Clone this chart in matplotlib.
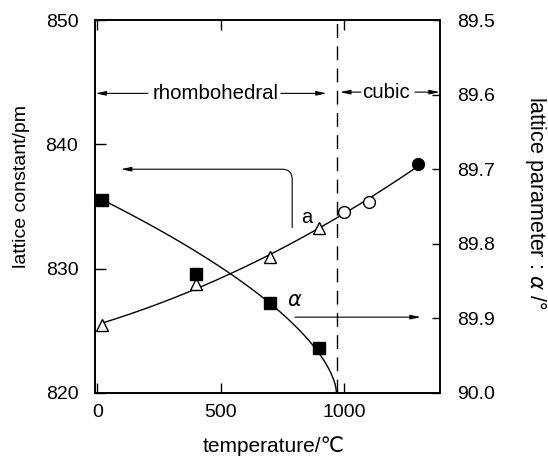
import numpy as np
import matplotlib.pyplot as plt

plt.rcParams['font.family'] = ['Liberation Sans', 'DejaVu Sans']
plt.rcParams['mathtext.fontset'] = 'dejavusans'

# lattice constant a (left axis)
T_rhombo = [20, 400, 700, 900]
a_rhombo = [825.5, 828.75, 830.9, 833.25]
T_cubic_open = [1000, 1100]
a_cubic_open = [834.55, 835.35]
T_cubic_fill = [1300]
a_cubic_fill = [838.4]

# rhombohedral angle alpha (right axis)
T_alpha = [20, 400, 700, 900]
alpha = [89.741, 89.840, 89.880, 89.940]

T_trans = 970      # phase transition (dashed line)
beta = 0.61        # shape of the alpha curve

fig = plt.figure(figsize=(5.48, 4.59), dpi=100)
ax = fig.add_axes([0.1734, 0.1438, 0.6296, 0.8126])
ax2 = ax.twinx()

# smooth curve through all a points
T_all = T_rhombo + T_cubic_open + T_cubic_fill
a_all = a_rhombo + a_cubic_open + a_cubic_fill
p = np.polyfit(T_all, a_all, 2)
tt = np.linspace(T_all[0], T_all[-1], 200)
ax.plot(tt, np.polyval(p, tt), color='k', lw=1, zorder=2)

ax.plot(T_rhombo, a_rhombo, '^', ms=9, mfc='white', mec='k', mew=1, zorder=3)
ax.plot(T_cubic_open, a_cubic_open, 'o', ms=8.5, mfc='white', mec='k', mew=1, zorder=3)
ax.plot(T_cubic_fill, a_cubic_fill, 'o', ms=8.5, mfc='k', mec='k', zorder=3)

# alpha curve, goes to 90 deg at the transition
ta = np.linspace(T_alpha[0], T_trans, 300)
af = 90 - (90 - alpha[0]) * ((T_trans - ta) / (T_trans - T_alpha[0])) ** beta
ax2.plot(ta, af, color='k', lw=1, zorder=2)
ax2.plot(T_alpha, alpha, 's', ms=9, mfc='k', mec='k', zorder=3)

ax.axvline(T_trans, color='k', lw=1, dashes=(10, 6))

ax.set_xlim(-10, 1390)
ax.set_ylim(820, 850)
ax2.set_ylim(90.0, 89.5)

ax.set_xticks([0, 500, 1000])
ax.set_yticks([820, 830, 840, 850])
ax2.set_yticks([89.5, 89.6, 89.7, 89.8, 89.9, 90.0])
ax2.set_yticklabels(['89.5', '89.6', '89.7', '89.8', '89.9', '90.0'])

ax.tick_params(axis='x', direction='in', top=True, length=7, width=1, labelsize=14, pad=8)
ax.tick_params(axis='y', direction='in', length=8, width=1, labelsize=14, pad=12)
ax2.tick_params(axis='y', direction='in', length=6, width=1, labelsize=14, pad=12)
for a_ in (ax, ax2):
    for s in a_.spines.values():
        s.set_linewidth(1.2)

# phase region arrows
arr = dict(arrowstyle='-|>,head_length=0.6,head_width=0.13', color='k', lw=0.8, shrinkA=0, shrinkB=0)
ax.annotate('', xy=(-8, 844.1), xytext=(205, 844.1), arrowprops=arr)
ax.annotate('', xy=(930, 844.1), xytext=(744, 844.1), arrowprops=arr)
ax.text(478, 844.1, 'rhombohedral', fontsize=14.7, ha='center', va='center')
ax.annotate('', xy=(984, 844.2), xytext=(1069, 844.2), arrowprops=arr)
ax.annotate('', xy=(1389, 844.2), xytext=(1288, 844.2), arrowprops=arr)
ax.text(1172, 844.2, 'cubic', fontsize=14.7, ha='center', va='center')

# curve labels with arrows to their axes
arr_a = dict(arr, connectionstyle='angle,angleA=90,angleB=0,rad=10')
ax.annotate('', xy=(95, 838.0), xytext=(790, 833.3), arrowprops=arr_a)
ax.text(848, 834.1, 'a', fontsize=14.5, ha='center', va='center')
ax.annotate('', xy=(1312, 826.1), xytext=(801, 826.1), arrowprops=arr)
ax.text(800, 827.4, r'$\alpha$', fontsize=15, ha='center', va='center')

fig.text(0.040, 1 - 186 / 459, 'lattice constant/pm', rotation=90, fontsize=14,
         ha='center', va='center')
fig.text(0.978, 1 - 203 / 459, r'lattice parameter : $\alpha$ /°', rotation=-90,
         fontsize=15.5, ha='center', va='center')
fig.text(274 / 548, 1 - 446 / 459, 'temperature/℃', fontsize=15, ha='center', va='center')

fig.savefig('out.png', dpi=100)
